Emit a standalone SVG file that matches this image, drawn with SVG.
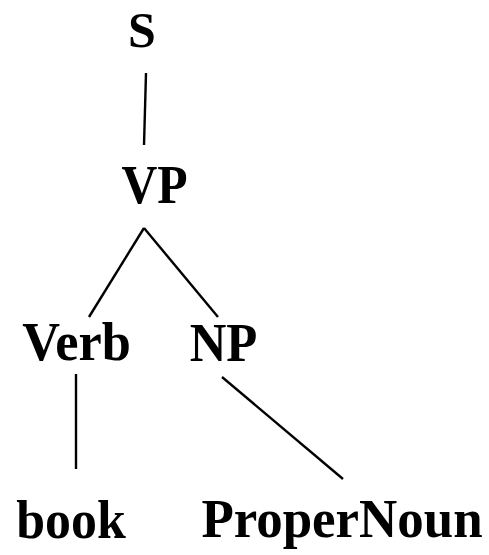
<svg xmlns="http://www.w3.org/2000/svg" width="489" height="555" viewBox="0 0 489 555">
<style>
text{font-family:"Liberation Serif","Times New Roman",serif;font-weight:bold;font-size:54px;fill:#000;text-anchor:middle}
line{stroke:#000;stroke-width:2.4;stroke-linecap:butt}
</style>
<rect width="489" height="555" fill="#fff"/>
<g id="connectors">
<line x1="146" y1="73" x2="144" y2="145"/>
<line x1="144" y1="228" x2="89" y2="317"/>
<line x1="144" y1="228" x2="218" y2="317"/>
<line x1="76" y1="374" x2="76" y2="469"/>
<line x1="222" y1="377" x2="343" y2="479"/>
</g>
<g id="S"><text x="142" y="47" style="font-size:50px">S</text></g>
<g id="VP"><text transform="translate(154.5,203) scale(0.92,1)">VP</text></g>
<g id="Verb"><text transform="translate(76.5,360) scale(0.97,1)">Verb</text></g>
<g id="NP"><text transform="translate(223.5,361) scale(0.94,1)">NP</text></g>
<g id="book"><text transform="translate(71,538) scale(0.96,1)">book</text></g>
<g id="ProperNoun"><text transform="translate(342,537) scale(0.98,1)">ProperNoun</text></g>
</svg>
